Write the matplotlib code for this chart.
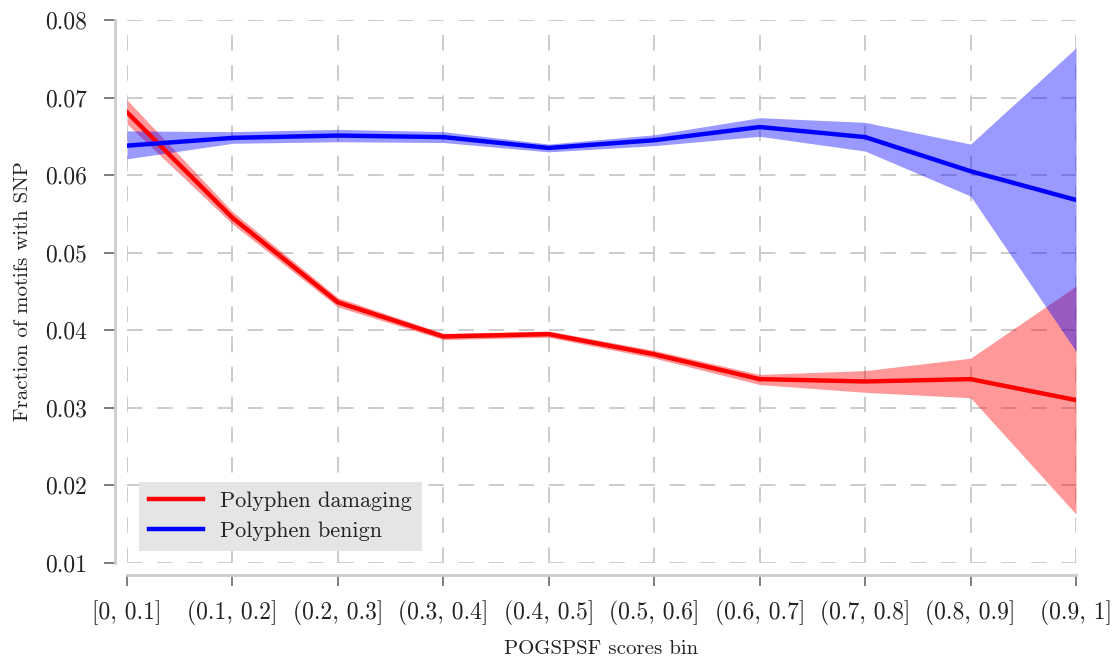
import matplotlib
matplotlib.use('Agg')
import matplotlib.pyplot as plt
import numpy as np

plt.rcParams['font.family'] = ['cmr10', 'DejaVu Serif']
plt.rcParams['axes.formatter.use_mathtext'] = True

bins = ['[0, 0.1]', '(0.1, 0.2]', '(0.2, 0.3]', '(0.3, 0.4]', '(0.4, 0.5]',
        '(0.5, 0.6]', '(0.6, 0.7]', '(0.7, 0.8]', '(0.8, 0.9]', '(0.9, 1]']

damaging = [0.0681, 0.0545, 0.0436, 0.0392, 0.0395, 0.0369, 0.0337, 0.0334, 0.0337, 0.0310]
damaging_lo = [0.0666, 0.0537, 0.0430, 0.0388, 0.0391, 0.0364, 0.0330, 0.0320, 0.0313, 0.0163]
damaging_hi = [0.0697, 0.0553, 0.0442, 0.0396, 0.0399, 0.0374, 0.0343, 0.0348, 0.0364, 0.0457]

benign = [0.0638, 0.0648, 0.0651, 0.0649, 0.0635, 0.0645, 0.0662, 0.0649, 0.0605, 0.0568]
benign_lo = [0.0621, 0.0641, 0.0643, 0.0642, 0.0630, 0.0638, 0.0650, 0.0631, 0.0573, 0.0373]
benign_hi = [0.0657, 0.0656, 0.0659, 0.0656, 0.0640, 0.0652, 0.0674, 0.0668, 0.0640, 0.0764]

x = np.arange(len(bins))

fig = plt.figure(figsize=(11.19, 6.59), dpi=100)
ax = fig.add_axes([0.1135, 0.1457, 0.8481, 0.8240])

ax.fill_between(x, damaging_lo, damaging_hi, color='red', alpha=0.4, lw=0)
ax.fill_between(x, benign_lo, benign_hi, color='blue', alpha=0.4, lw=0)
ax.plot(x, damaging, color='red', lw=3.2, label='Polyphen damaging')
ax.plot(x, benign, color='blue', lw=3.2, label='Polyphen benign')

ax.set_xlim(0, 9)
ax.set_ylim(0.01, 0.08)
ax.set_xticks(x)
ax.set_xticklabels(bins)
yt = np.arange(0.01, 0.0801, 0.01)
ax.set_yticks(yt)
ax.set_yticklabels(['%.2f' % v for v in yt])

ax.grid(True, color='#cccccc', linestyle=(0, (8.0, 7.5)), lw=1.4)
ax.set_axisbelow(True)

for s in ['top', 'right']:
    ax.spines[s].set_visible(False)
for s in ['left', 'bottom']:
    ax.spines[s].set_position(('outward', 8.5))
    ax.spines[s].set_color('#cccccc')
    ax.spines[s].set_linewidth(2)

ax.tick_params(axis='both', which='major', direction='out', length=8,
               width=1.2, color='#666666', labelsize=17, labelcolor='#222222')
ax.tick_params(axis='x', pad=10)
ax.tick_params(axis='y', pad=12)

ax.set_xlabel('POGSPSF scores bin', fontsize=15, labelpad=11, color='#222222')
ax.set_ylabel('Fraction of motifs with SNP', fontsize=15, labelpad=10, color='#222222')

leg = ax.legend(loc='lower left', fontsize=16, frameon=True, fancybox=False,
                borderaxespad=0.55, handlelength=2.4, handletextpad=0.8,
                labelspacing=0.45, borderpad=0.45)
leg.get_frame().set_facecolor('#e5e5e5')
leg.get_frame().set_edgecolor('none')
leg.get_frame().set_alpha(1)
for t in leg.get_texts():
    t.set_color('#222222')

fig.savefig('out.png', dpi=100, facecolor='white')
